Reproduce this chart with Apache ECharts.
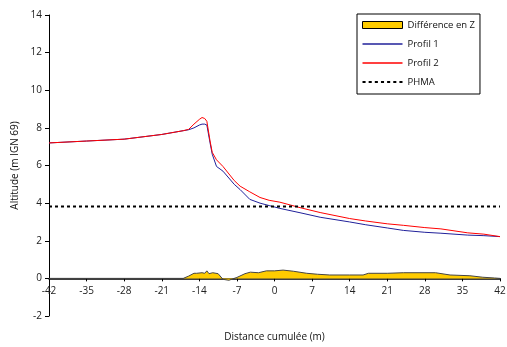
<!DOCTYPE html>
<html>
<head>
<meta charset="utf-8">
<script src="https://cdn.jsdelivr.net/npm/echarts@6/dist/echarts.min.js"></script>
<style>
  html, body { margin: 0; padding: 0; background: #fff; }
  #main { width: 507px; height: 347px; }
</style>
</head>
<body>
<div id="main"></div>
<script>
var myChart = echarts.init(document.getElementById('main'));

// profils (distance cumulée en m, altitude en m IGN 69)
var dist = [-42, -35, -28, -21, -17, -16, -15, -14, -13.5, -13, -12.6, -12, -11.6, -10.8, -9.6, -7.5, -6.4, -4.6, -2.7, -1, 1, 4.75, 8.5, 14, 17, 21, 24, 28, 31, 36, 39, 42];
var profil1 = [7.2, 7.3, 7.4, 7.65, 7.85, 7.9, 8.0, 8.15, 8.2, 8.2, 8.15, 7.2, 6.6, 5.95, 5.7, 5.0, 4.72, 4.2, 4.0, 3.87, 3.72, 3.49, 3.25, 3.0, 2.85, 2.68, 2.55, 2.45, 2.4, 2.3, 2.27, 2.22];
var profil2 = [7.2, 7.3, 7.4, 7.65, 7.85, 7.92, 8.2, 8.45, 8.55, 8.5, 8.35, 7.3, 6.7, 6.3, 5.95, 5.2, 4.9, 4.6, 4.3, 4.15, 4.05, 3.76, 3.5, 3.18, 3.05, 2.9, 2.82, 2.7, 2.63, 2.42, 2.35, 2.22];

// différence en Z
var diffDist = [-42, -17, -16, -15, -14.5, -13.5, -13, -12.6, -12.2, -11.5, -10.5, -9.6, -8.5, -7, -5.5, -4.5, -3, -1.5, 0, 1.6, 3.5, 6, 8, 10.3, 14, 16.5, 17.5, 21, 24, 30, 32.7, 36.4, 38.8, 41, 42];
var diff = [0, 0, 0.12, 0.27, 0.27, 0.3, 0.27, 0.4, 0.25, 0.3, 0.25, -0.05, -0.1, 0.05, 0.25, 0.33, 0.3, 0.4, 0.4, 0.44, 0.38, 0.27, 0.22, 0.18, 0.18, 0.18, 0.27, 0.27, 0.3, 0.3, 0.18, 0.14, 0.06, 0.02, 0];

// PHMA
var phmaDist = [-42, 42];
var phma = [3.82, 3.82];

function pairs(xs, ys) {
  return xs.map(function (x, i) { return [x, ys[i]]; });
}

var font = 'Open Sans';
var dots = 'path://M0,0h3v2h-3zM6,0h3v2h-3zM12,0h3v2h-3zM18,0h3v2h-3zM24,0h3v2h-3zM30,0h3v2h-3zM36,0h3v2h-3z';

// l'axe des x passe par 0 : on le remonte de 2 unités (hauteur de grille 301 px pour 16 unités)
var gridTop = 15, gridBottom = 31, chartH = 347;
var xOffset = -2 * (chartH - gridTop - gridBottom) / 16;

var option = {
  animation: false,
  textStyle: { fontFamily: font },
  grid: { left: 49, right: 7, top: gridTop, bottom: gridBottom, containLabel: false, outerBoundsMode: 'none' },
  legend: {
    orient: 'vertical',
    left: 357,
    top: 14,
    padding: [6, 5, 7, 5],
    itemGap: 9,
    itemWidth: 40,
    itemHeight: 12,
    borderColor: '#000',
    borderWidth: 1,
    borderRadius: 0,
    textStyle: { fontFamily: font, fontSize: 9.5, color: '#111' },
    data: [
      { name: 'Différence en Z', icon: 'path://M0,0h40v7h-40z', itemStyle: { color: '#FFCC00', borderColor: '#000', borderWidth: 1 } },
      { name: 'Profil 1', icon: 'path://M0,0h40v1.5h-40z', itemStyle: { color: '#20209a' } },
      { name: 'Profil 2', icon: 'path://M0,0h40v1.5h-40z', itemStyle: { color: '#ff0000' } },
      { name: 'PHMA', icon: dots, itemStyle: { color: '#000' } }
    ]
  },
  xAxis: {
    type: 'value',
    min: -42,
    max: 42,
    interval: 7,
    offset: xOffset,
    name: 'Distance cumulée (m)',
    nameLocation: 'middle',
    nameGap: 54,
    nameTextStyle: { fontFamily: font, fontSize: 10, color: '#111' },
    axisLine: { onZero: false, lineStyle: { color: '#000', width: 1.5 } },
    axisTick: { length: 3, lineStyle: { color: '#000' } },
    axisLabel: { margin: 8, fontFamily: font, fontSize: 10, color: '#222' },
    splitLine: { show: false }
  },
  yAxis: {
    type: 'value',
    min: -2,
    max: 14,
    interval: 2,
    name: 'Altitude (m IGN 69)',
    nameLocation: 'middle',
    nameGap: 22,
    nameTextStyle: { fontFamily: font, fontSize: 10, color: '#111' },
    axisLine: { show: true, onZero: false, lineStyle: { color: '#000', width: 1 } },
    axisTick: { show: true, length: 4, lineStyle: { color: '#000' } },
    axisLabel: { margin: 7, fontFamily: font, fontSize: 10, color: '#222' },
    splitLine: { show: false }
  },
  series: [
    {
      name: 'Différence en Z',
      type: 'line',
      data: pairs(diffDist, diff),
      symbol: 'none',
      lineStyle: { color: '#444', width: 1 },
      itemStyle: { color: '#FFCC00' },
      areaStyle: { color: '#FFCC00', opacity: 1, origin: 0 },
      z: 2
    },
    {
      name: 'Profil 1',
      type: 'line',
      data: pairs(dist, profil1),
      symbol: 'none',
      lineStyle: { color: '#20209a', width: 1 },
      itemStyle: { color: '#20209a' },
      z: 3
    },
    {
      name: 'Profil 2',
      type: 'line',
      data: pairs(dist, profil2),
      symbol: 'none',
      lineStyle: { color: '#ff0000', width: 1 },
      itemStyle: { color: '#ff0000' },
      z: 4
    },
    {
      name: 'PHMA',
      type: 'line',
      data: pairs(phmaDist, phma),
      symbol: 'none',
      lineStyle: { color: '#000', width: 2, type: [3, 3] },
      itemStyle: { color: '#000' },
      z: 5
    }
  ]
};

myChart.setOption(option);
</script>
</body>
</html>
